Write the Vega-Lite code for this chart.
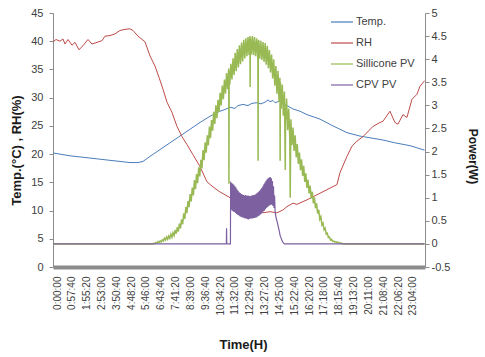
{
  "$schema": "https://vega.github.io/schema/vega-lite/v6.json",
  "width": 372,
  "height": 254,
  "autosize": "none",
  "padding": {"left": 53, "top": 13, "right": 60, "bottom": 90},
  "background": "white",
  "config": {"view": {"stroke": null}, "font": "Liberation Sans"},
  "datasets": {
    "lines": [
      {"s": 0, "series": "Temp.", "v": 20.2}, {"s": 1633, "series": "Temp.", "v": 20.0}, {"s": 3966, "series": "Temp.", "v": 19.7}, {"s": 6299, "series": "Temp.", "v": 19.5}, {"s": 8632, "series": "Temp.", "v": 19.3}, {"s": 10965, "series": "Temp.", "v": 19.1}, {"s": 13298, "series": "Temp.", "v": 18.9}, {"s": 15631, "series": "Temp.", "v": 18.7}, {"s": 17964, "series": "Temp.", "v": 18.5}, {"s": 19831, "series": "Temp.", "v": 18.5}, {"s": 20997, "series": "Temp.", "v": 18.7}, {"s": 22630, "series": "Temp.", "v": 19.6}, {"s": 23797, "series": "Temp.", "v": 20.2}, {"s": 24963, "series": "Temp.", "v": 20.8}, {"s": 27296, "series": "Temp.", "v": 22.0}, {"s": 29629, "series": "Temp.", "v": 23.2}, {"s": 31962, "series": "Temp.", "v": 24.4}, {"s": 34295, "series": "Temp.", "v": 25.6}, {"s": 36628, "series": "Temp.", "v": 26.7}, {"s": 38961, "series": "Temp.", "v": 27.6}, {"s": 40128, "series": "Temp.", "v": 27.9}, {"s": 41294, "series": "Temp.", "v": 28.3}, {"s": 42461, "series": "Temp.", "v": 28.1}, {"s": 43161, "series": "Temp.", "v": 28.6}, {"s": 44327, "series": "Temp.", "v": 28.8}, {"s": 45494, "series": "Temp.", "v": 28.6}, {"s": 46427, "series": "Temp.", "v": 29.0}, {"s": 47594, "series": "Temp.", "v": 29.1}, {"s": 48527, "series": "Temp.", "v": 28.9}, {"s": 49460, "series": "Temp.", "v": 29.2}, {"s": 50160, "series": "Temp.", "v": 29.6}, {"s": 50626, "series": "Temp.", "v": 29.3}, {"s": 51326, "series": "Temp.", "v": 29.5}, {"s": 51793, "series": "Temp.", "v": 29.1}, {"s": 52959, "series": "Temp.", "v": 29.4}, {"s": 53892, "series": "Temp.", "v": 28.9}, {"s": 54592, "series": "Temp.", "v": 28.6}, {"s": 55992, "series": "Temp.", "v": 28.0}, {"s": 57625, "series": "Temp.", "v": 27.6}, {"s": 59258, "series": "Temp.", "v": 27.0}, {"s": 62291, "series": "Temp.", "v": 26.2}, {"s": 65324, "series": "Temp.", "v": 25.0}, {"s": 68590, "series": "Temp.", "v": 23.8}, {"s": 71623, "series": "Temp.", "v": 23.2}, {"s": 74656, "series": "Temp.", "v": 22.8}, {"s": 76989, "series": "Temp.", "v": 22.5}, {"s": 79789, "series": "Temp.", "v": 22.0}, {"s": 83288, "series": "Temp.", "v": 21.5}, {"s": 86700, "series": "Temp.", "v": 20.7},
      {"s": 0, "series": "RH", "v": 39.9}, {"s": 700, "series": "RH", "v": 40.3}, {"s": 1633, "series": "RH", "v": 40.0}, {"s": 2333, "series": "RH", "v": 40.4}, {"s": 2800, "series": "RH", "v": 39.5}, {"s": 3500, "series": "RH", "v": 40.3}, {"s": 4433, "series": "RH", "v": 39.3}, {"s": 5133, "series": "RH", "v": 39.8}, {"s": 6066, "series": "RH", "v": 38.5}, {"s": 6999, "series": "RH", "v": 39.2}, {"s": 8166, "series": "RH", "v": 40.3}, {"s": 9099, "series": "RH", "v": 39.5}, {"s": 10265, "series": "RH", "v": 39.8}, {"s": 11432, "series": "RH", "v": 40.1}, {"s": 12132, "series": "RH", "v": 40.9}, {"s": 13298, "series": "RH", "v": 41.0}, {"s": 14465, "series": "RH", "v": 41.3}, {"s": 15631, "series": "RH", "v": 41.9}, {"s": 16798, "series": "RH", "v": 42.1}, {"s": 17964, "series": "RH", "v": 42.2}, {"s": 18664, "series": "RH", "v": 41.9}, {"s": 19831, "series": "RH", "v": 40.9}, {"s": 21464, "series": "RH", "v": 39.9}, {"s": 22630, "series": "RH", "v": 37.4}, {"s": 23797, "series": "RH", "v": 35.6}, {"s": 24730, "series": "RH", "v": 33.6}, {"s": 25663, "series": "RH", "v": 31.5}, {"s": 26596, "series": "RH", "v": 29.2}, {"s": 27763, "series": "RH", "v": 27.4}, {"s": 28929, "series": "RH", "v": 24.9}, {"s": 30096, "series": "RH", "v": 23.1}, {"s": 31262, "series": "RH", "v": 21.7}, {"s": 32662, "series": "RH", "v": 19.9}, {"s": 34295, "series": "RH", "v": 17.8}, {"s": 35928, "series": "RH", "v": 15.1}, {"s": 37328, "series": "RH", "v": 14.2}, {"s": 38961, "series": "RH", "v": 13.3}, {"s": 40828, "series": "RH", "v": 12.5}, {"s": 42461, "series": "RH", "v": 11.7}, {"s": 45260, "series": "RH", "v": 10.1}, {"s": 47127, "series": "RH", "v": 10.4}, {"s": 48993, "series": "RH", "v": 9.6}, {"s": 50626, "series": "RH", "v": 9.8}, {"s": 52259, "series": "RH", "v": 9.6}, {"s": 53659, "series": "RH", "v": 10.1}, {"s": 54592, "series": "RH", "v": 10.7}, {"s": 55992, "series": "RH", "v": 11.3}, {"s": 56925, "series": "RH", "v": 11.1}, {"s": 59258, "series": "RH", "v": 11.9}, {"s": 61591, "series": "RH", "v": 12.8}, {"s": 63924, "series": "RH", "v": 13.7}, {"s": 66257, "series": "RH", "v": 14.6}, {"s": 66957, "series": "RH", "v": 16.7}, {"s": 68590, "series": "RH", "v": 19.6}, {"s": 69757, "series": "RH", "v": 21.4}, {"s": 70923, "series": "RH", "v": 22.3}, {"s": 72323, "series": "RH", "v": 23.1}, {"s": 74656, "series": "RH", "v": 24.9}, {"s": 76289, "series": "RH", "v": 25.6}, {"s": 76989, "series": "RH", "v": 25.8}, {"s": 78622, "series": "RH", "v": 27.6}, {"s": 79789, "series": "RH", "v": 25.6}, {"s": 80489, "series": "RH", "v": 25.3}, {"s": 81655, "series": "RH", "v": 27.0}, {"s": 82588, "series": "RH", "v": 26.5}, {"s": 83755, "series": "RH", "v": 29.7}, {"s": 84921, "series": "RH", "v": 30.6}, {"s": 85621, "series": "RH", "v": 32.0}, {"s": 86700, "series": "RH", "v": 33.0}
    ],
    "si": [
      {"s": 0, "p": 0}, {"s": 23000, "p": 0}, {"s": 23250, "p": 0}, {"s": 23500, "p": 0.015}, {"s": 23750, "p": 0.008}, {"s": 24000, "p": 0.03}, {"s": 24250, "p": 0.02}, {"s": 24500, "p": 0.05}, {"s": 24750, "p": 0.033}, {"s": 25000, "p": 0.065}, {"s": 25250, "p": 0.042}, {"s": 25500, "p": 0.09}, {"s": 25750, "p": 0.065}, {"s": 26000, "p": 0.12}, {"s": 26250, "p": 0.085}, {"s": 26500, "p": 0.15}, {"s": 26750, "p": 0.1}, {"s": 27000, "p": 0.17}, {"s": 27250, "p": 0.12}, {"s": 27500, "p": 0.21}, {"s": 27750, "p": 0.145}, {"s": 28000, "p": 0.24}, {"s": 28250, "p": 0.18}, {"s": 28500, "p": 0.3}, {"s": 28750, "p": 0.22}, {"s": 29000, "p": 0.36}, {"s": 29250, "p": 0.27}, {"s": 29500, "p": 0.44}, {"s": 29750, "p": 0.335}, {"s": 30000, "p": 0.53}, {"s": 30250, "p": 0.425}, {"s": 30500, "p": 0.66}, {"s": 30750, "p": 0.54}, {"s": 31000, "p": 0.8}, {"s": 31250, "p": 0.665}, {"s": 31500, "p": 0.93}, {"s": 31750, "p": 0.795}, {"s": 32000, "p": 1.08}, {"s": 32250, "p": 0.92}, {"s": 32500, "p": 1.22}, {"s": 32750, "p": 1.05}, {"s": 33000, "p": 1.38}, {"s": 33250, "p": 1.185}, {"s": 33500, "p": 1.51}, {"s": 33750, "p": 1.315}, {"s": 34000, "p": 1.66}, {"s": 34250, "p": 1.46}, {"s": 34500, "p": 1.82}, {"s": 34750, "p": 1.635}, {"s": 35000, "p": 2.03}, {"s": 35250, "p": 1.815}, {"s": 35500, "p": 2.2}, {"s": 35750, "p": 1.975}, {"s": 36000, "p": 2.35}, {"s": 36250, "p": 2.135}, {"s": 36500, "p": 2.54}, {"s": 36750, "p": 2.29}, {"s": 37000, "p": 2.68}, {"s": 37250, "p": 2.45}, {"s": 37500, "p": 2.86}, {"s": 37750, "p": 2.6}, {"s": 38000, "p": 3.0}, {"s": 38250, "p": 2.72}, {"s": 38500, "p": 3.12}, {"s": 38750, "p": 2.855}, {"s": 39000, "p": 3.27}, {"s": 39250, "p": 3.0}, {"s": 39500, "p": 3.43}, {"s": 39750, "p": 3.135}, {"s": 40000, "p": 3.56}, {"s": 40250, "p": 3.25}, {"s": 40500, "p": 3.7}, {"s": 40750, "p": 3.35}, {"s": 41000, "p": 3.8}, {"s": 41050, "p": 1.3}, {"s": 41100, "p": 3.75}, {"s": 41250, "p": 3.45}, {"s": 41500, "p": 3.9}, {"s": 41750, "p": 3.56}, {"s": 42000, "p": 4.02}, {"s": 42250, "p": 3.66}, {"s": 42500, "p": 4.14}, {"s": 42750, "p": 3.74}, {"s": 43000, "p": 4.22}, {"s": 43250, "p": 3.82}, {"s": 43500, "p": 4.3}, {"s": 43750, "p": 3.89}, {"s": 44000, "p": 4.36}, {"s": 44250, "p": 3.95}, {"s": 44500, "p": 4.42}, {"s": 44750, "p": 4.015}, {"s": 45000, "p": 4.45}, {"s": 45250, "p": 4.065}, {"s": 45500, "p": 4.48}, {"s": 45750, "p": 4.09}, {"s": 45950, "p": 4.5}, {"s": 46000, "p": 3.4}, {"s": 46050, "p": 4.45}, {"s": 46250, "p": 4.1}, {"s": 46500, "p": 4.5}, {"s": 46750, "p": 4.09}, {"s": 47000, "p": 4.48}, {"s": 47250, "p": 4.065}, {"s": 47500, "p": 4.45}, {"s": 47750, "p": 4.035}, {"s": 47800, "p": 4.4}, {"s": 47850, "p": 1.8}, {"s": 47900, "p": 4.3}, {"s": 48000, "p": 4.42}, {"s": 48250, "p": 4.01}, {"s": 48500, "p": 4.4}, {"s": 48750, "p": 3.985}, {"s": 49000, "p": 4.37}, {"s": 49250, "p": 3.94}, {"s": 49500, "p": 4.35}, {"s": 49750, "p": 3.88}, {"s": 50000, "p": 4.29}, {"s": 50250, "p": 3.805}, {"s": 50500, "p": 4.2}, {"s": 50750, "p": 3.71}, {"s": 51000, "p": 4.1}, {"s": 51250, "p": 3.58}, {"s": 51500, "p": 4.0}, {"s": 51750, "p": 3.425}, {"s": 52000, "p": 3.85}, {"s": 52250, "p": 3.25}, {"s": 52500, "p": 3.75}, {"s": 52750, "p": 3.075}, {"s": 52950, "p": 3.6}, {"s": 53000, "p": 1.8}, {"s": 53050, "p": 3.5}, {"s": 53250, "p": 2.925}, {"s": 53500, "p": 3.45}, {"s": 53750, "p": 2.775}, {"s": 54000, "p": 3.3}, {"s": 54200, "p": 1.6}, {"s": 54250, "p": 2.625}, {"s": 54500, "p": 3.15}, {"s": 54750, "p": 2.46}, {"s": 55000, "p": 2.93}, {"s": 55250, "p": 2.285}, {"s": 55350, "p": 1.0}, {"s": 55500, "p": 2.7}, {"s": 55750, "p": 2.14}, {"s": 56000, "p": 2.52}, {"s": 56250, "p": 2.015}, {"s": 56500, "p": 2.35}, {"s": 56750, "p": 1.875}, {"s": 57000, "p": 2.16}, {"s": 57250, "p": 1.73}, {"s": 57500, "p": 1.98}, {"s": 57750, "p": 1.595}, {"s": 58000, "p": 1.83}, {"s": 58250, "p": 1.47}, {"s": 58500, "p": 1.69}, {"s": 58750, "p": 1.34}, {"s": 59000, "p": 1.53}, {"s": 59250, "p": 1.21}, {"s": 59500, "p": 1.39}, {"s": 59750, "p": 1.095}, {"s": 60000, "p": 1.26}, {"s": 60250, "p": 0.985}, {"s": 60500, "p": 1.13}, {"s": 60750, "p": 0.88}, {"s": 61000, "p": 1.01}, {"s": 61250, "p": 0.775}, {"s": 61500, "p": 0.88}, {"s": 61750, "p": 0.66}, {"s": 62000, "p": 0.74}, {"s": 62250, "p": 0.535}, {"s": 62500, "p": 0.59}, {"s": 62750, "p": 0.41}, {"s": 63000, "p": 0.45}, {"s": 63250, "p": 0.305}, {"s": 63500, "p": 0.34}, {"s": 63750, "p": 0.215}, {"s": 64000, "p": 0.23}, {"s": 64250, "p": 0.14}, {"s": 64500, "p": 0.15}, {"s": 64750, "p": 0.085}, {"s": 65000, "p": 0.1}, {"s": 65250, "p": 0.055}, {"s": 65500, "p": 0.06}, {"s": 65750, "p": 0.04}, {"s": 66000, "p": 0.05}, {"s": 66250, "p": 0.03}, {"s": 66500, "p": 0.04}, {"s": 66750, "p": 0.02}, {"s": 67000, "p": 0.025}, {"s": 67500, "p": 0.01}, {"s": 68000, "p": 0}, {"s": 86700, "p": 0}
    ],
    "cpv": [
      {"s": 0, "p": 0}, {"s": 40450, "p": 0}, {"s": 40500, "p": 0.34}, {"s": 40550, "p": 0}, {"s": 41400, "p": 0}, {"s": 41450, "p": 1.35}, {"s": 41575, "p": 0.74}, {"s": 41700, "p": 1.32}, {"s": 41825, "p": 0.72}, {"s": 41950, "p": 1.3}, {"s": 42075, "p": 0.7}, {"s": 42200, "p": 1.28}, {"s": 42325, "p": 0.69}, {"s": 42450, "p": 1.25}, {"s": 42575, "p": 0.67}, {"s": 42700, "p": 1.22}, {"s": 42825, "p": 0.65}, {"s": 42950, "p": 1.18}, {"s": 43075, "p": 0.63}, {"s": 43200, "p": 1.15}, {"s": 43325, "p": 0.62}, {"s": 43450, "p": 1.12}, {"s": 43575, "p": 0.6}, {"s": 43700, "p": 1.1}, {"s": 43825, "p": 0.59}, {"s": 43950, "p": 1.08}, {"s": 44075, "p": 0.58}, {"s": 44200, "p": 1.07}, {"s": 44325, "p": 0.57}, {"s": 44450, "p": 1.06}, {"s": 44575, "p": 0.56}, {"s": 44700, "p": 1.05}, {"s": 44825, "p": 0.55}, {"s": 44950, "p": 1.06}, {"s": 45075, "p": 0.55}, {"s": 45200, "p": 1.04}, {"s": 45325, "p": 0.54}, {"s": 45450, "p": 1.05}, {"s": 45575, "p": 0.53}, {"s": 45700, "p": 1.04}, {"s": 45825, "p": 0.54}, {"s": 45950, "p": 1.03}, {"s": 46075, "p": 0.55}, {"s": 46200, "p": 1.04}, {"s": 46325, "p": 0.55}, {"s": 46450, "p": 1.05}, {"s": 46575, "p": 0.55}, {"s": 46700, "p": 1.06}, {"s": 46825, "p": 0.56}, {"s": 46950, "p": 1.06}, {"s": 47075, "p": 0.56}, {"s": 47200, "p": 1.07}, {"s": 47325, "p": 0.57}, {"s": 47450, "p": 1.09}, {"s": 47575, "p": 0.58}, {"s": 47700, "p": 1.11}, {"s": 47825, "p": 0.6}, {"s": 47950, "p": 1.13}, {"s": 48075, "p": 0.61}, {"s": 48200, "p": 1.15}, {"s": 48325, "p": 0.63}, {"s": 48450, "p": 1.18}, {"s": 48575, "p": 0.65}, {"s": 48700, "p": 1.21}, {"s": 48825, "p": 0.67}, {"s": 48950, "p": 1.25}, {"s": 49075, "p": 0.7}, {"s": 49200, "p": 1.29}, {"s": 49325, "p": 0.72}, {"s": 49450, "p": 1.33}, {"s": 49575, "p": 0.75}, {"s": 49700, "p": 1.37}, {"s": 49825, "p": 0.78}, {"s": 49950, "p": 1.4}, {"s": 50075, "p": 0.8}, {"s": 50200, "p": 1.42}, {"s": 50325, "p": 0.82}, {"s": 50450, "p": 1.44}, {"s": 50575, "p": 0.84}, {"s": 50700, "p": 1.45}, {"s": 50825, "p": 0.85}, {"s": 50950, "p": 1.42}, {"s": 51075, "p": 0.85}, {"s": 51200, "p": 1.36}, {"s": 51325, "p": 0.82}, {"s": 51450, "p": 1.25}, {"s": 51575, "p": 0.78}, {"s": 51700, "p": 1.05}, {"s": 51825, "p": 0.7}, {"s": 51950, "p": 0.62}, {"s": 52100, "p": 0.55}, {"s": 52250, "p": 0.5}, {"s": 52500, "p": 0.4}, {"s": 52750, "p": 0.3}, {"s": 53000, "p": 0.18}, {"s": 53250, "p": 0.12}, {"s": 53500, "p": 0.06}, {"s": 53750, "p": 0.02}, {"s": 54000, "p": 0}, {"s": 86700, "p": 0}
    ]
  },
  "encoding": {
    "x": {
      "field": "s",
      "type": "quantitative",
      "scale": {"domain": [0, 86800], "nice": false, "zero": false},
      "axis": {
        "values": [0, 3460, 6920, 10380, 13840, 17300, 20760, 24220, 27680, 31140, 34600, 38060, 41520, 44980, 48440, 51900, 55360, 58820, 62280, 65740, 69200, 72660, 76120, 79580, 83040],
        "labelExpr": "floor(datum.value / 3600) + ':' + utcFormat(datum.value * 1000, '%M:%S')",
        "labelAngle": -90,
        "labelFontSize": 10,
        "labelColor": "#404040",
        "labelOffset": 4,
        "labelOverlap": false,
        "labelFlush": false,
        "ticks": false,
        "tickSize": 0,
        "labelPadding": 9,
        "domainColor": "#8c8c8c",
        "domainWidth": 4,
        "grid": false,
        "title": "Time(H)",
        "titleFont": "Liberation Sans",
        "titleFontSize": 13,
        "titleFontWeight": "bold",
        "titleColor": "#1a1a1a",
        "titlePadding": 24,
        "titleX": 190
      }
    }
  },
  "layer": [
    {
      "data": {"name": "lines"},
      "mark": {"type": "line", "strokeWidth": 1},
      "encoding": {
        "y": {
          "field": "v",
          "type": "quantitative",
          "scale": {"domain": [0, 45], "nice": false},
          "axis": {
            "orient": "left",
            "values": [0, 5, 10, 15, 20, 25, 30, 35, 40, 45],
            "format": "d",
            "title": "Temp.(°C) , RH(%)",
            "titleFontSize": 13,
            "titleFontWeight": "bold",
            "titleColor": "#1a1a1a",
            "titlePadding": 7,
            "titleY": 137,
            "labelColor": "#404040",
            "labelFontSize": 11,
            "labelPadding": 6,
            "tickSize": 4,
            "tickColor": "#8c8c8c",
            "domainColor": "#8c8c8c",
            "grid": false
          }
        },
        "color": {
          "field": "series",
          "type": "nominal",
          "scale": {"domain": ["Temp.", "RH", "Sillicone PV", "CPV PV"], "range": ["#4a7ebb", "#be4b48", "#98b954", "#7d60a0"]},
          "legend": {
            "orient": "none",
            "legendX": 277,
            "legendY": -3,
            "title": null,
            "symbolType": "stroke",
            "symbolSize": 484,
            "symbolStrokeWidth": 1.2,
            "labelFontSize": 11,
            "labelColor": "#404040",
            "rowPadding": 4,
            "labelOffset": 2,
            "padding": 0
          }
        }
      }
    },
    {
      "layer": [
        {
          "data": {"name": "si"},
          "mark": {"type": "line", "strokeWidth": 1.5},
          "encoding": {
            "y": {
              "field": "p",
              "type": "quantitative",
              "scale": {"domain": [-0.5, 5], "nice": false, "zero": false},
              "axis": {
                "orient": "right",
                "values": [-0.5, 0, 0.5, 1, 1.5, 2, 2.5, 3, 3.5, 4, 4.5, 5],
                "labelExpr": "datum.value < 0 ? '-' + format(-datum.value, '~g') : format(datum.value, '~g')",
                "title": "Power(W)",
                "titleFontSize": 12,
                "titleFontWeight": "bold",
                "titleColor": "#1a1a1a",
                "titlePadding": 16,
                "titleY": 143,
                "labelColor": "#404040",
                "labelFontSize": 11,
                "labelPadding": 2,
                "tickSize": 4,
                "tickColor": "#8c8c8c",
                "domainColor": "#8c8c8c",
                "grid": false
              }
            },
            "color": {"datum": "Sillicone PV", "type": "nominal", "scale": {"domain": ["Temp.", "RH", "Sillicone PV", "CPV PV"], "range": ["#4a7ebb", "#be4b48", "#98b954", "#7d60a0"]}}
          }
        },
        {
          "data": {"name": "cpv"},
          "mark": {"type": "line", "strokeWidth": 1.2},
          "encoding": {
            "y": {
              "field": "p",
              "type": "quantitative",
              "scale": {"domain": [-0.5, 5], "nice": false, "zero": false},
              "axis": {
                "orient": "right",
                "values": [-0.5, 0, 0.5, 1, 1.5, 2, 2.5, 3, 3.5, 4, 4.5, 5],
                "labelExpr": "datum.value < 0 ? '-' + format(-datum.value, '~g') : format(datum.value, '~g')",
                "title": "Power(W)",
                "titleFontSize": 12,
                "titleFontWeight": "bold",
                "titleColor": "#1a1a1a",
                "titlePadding": 16,
                "titleY": 143,
                "labelColor": "#404040",
                "labelFontSize": 11,
                "labelPadding": 2,
                "tickSize": 4,
                "tickColor": "#8c8c8c",
                "domainColor": "#8c8c8c",
                "grid": false
              }
            },
            "color": {"datum": "CPV PV", "type": "nominal", "scale": {"domain": ["Temp.", "RH", "Sillicone PV", "CPV PV"], "range": ["#4a7ebb", "#be4b48", "#98b954", "#7d60a0"]}}
          }
        }
      ]
    }
  ],
  "resolve": {"scale": {"y": "independent"}}
}
